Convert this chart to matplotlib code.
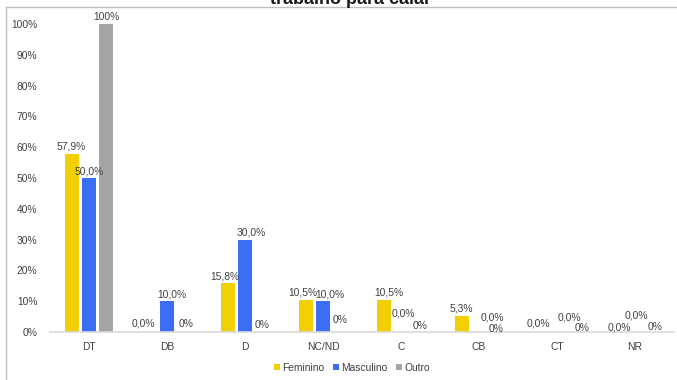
import matplotlib
matplotlib.use("Agg")
import matplotlib.pyplot as plt
from matplotlib.lines import Line2D
from matplotlib.patches import Patch
import numpy as np

plt.rcParams['font.family'] = ['Liberation Sans', 'DejaVu Sans']

categories = ["DT", "DB", "D", "NC/ND", "C", "CB", "CT", "NR"]
series_names = ["Feminino", "Masculino", "Outro"]
feminino = [57.9, 0.0, 15.8, 10.5, 10.5, 5.3, 0.0, 0.0]
masculino = [50.0, 10.0, 30.0, 10.0, 0.0, 0.0, 0.0, 0.0]
outro = [100, 0, 0, 0, 0, 0, 0, 0]
yticks = [0, 10, 20, 30, 40, 50, 60, 70, 80, 90, 100]
title = "trabalho para calar"

colors = ["#F2CF00", "#3A6EF5", "#A5A5A5"]
text_color = "#404040"

# label offsets in pixels (dx, dy) for (series, category) – layout only
label_offsets = {
    (0, 1): (-6, 9), (2, 1): (1.5, 8),
    (0, 2): (-3, 7), (1, 2): (6, 7), (2, 2): (0, 7),
    (0, 3): (-3, 7), (1, 3): (7, 7), (2, 3): (0, 12),
    (0, 4): (5, 7), (1, 4): (2, 19), (2, 4): (1.5, 6),
    (1, 5): (13, 14), (2, 5): (0, 3),
    (0, 6): (-1.5, 9), (1, 6): (12, 14), (2, 6): (8, 4),
    (0, 7): (1.5, 5), (1, 7): (1, 16), (2, 7): (2.5, 5),
    (1, 1): (5, 7),
}

W, H = 677, 380
fig = plt.figure(figsize=(W / 100, H / 100), dpi=100)
ax = fig.add_axes([50 / W, (H - 332) / H, 624 / W, 308 / H])

x = np.arange(len(categories))
bw = 0.18
off = 0.224
data = [feminino, masculino, outro]
for i, (vals, c) in enumerate(zip(data, colors)):
    xs = x + (i - 1) * off
    ax.bar(xs, vals, width=bw, color=c, zorder=2)
    for j, v in enumerate(vals):
        if i == 2:
            lbl = f"{v:.0f}%"
        else:
            lbl = f"{v:.1f}%".replace(".", ",")
        dx, dy = label_offsets.get((i, j), (0, 7))
        ax.annotate(lbl, xy=(xs[j], v), xytext=(dx, dy), textcoords="offset pixels",
                    ha="center", va="center", fontsize=7.4, color=text_color,
                    annotation_clip=False)

ax.set_xlim(-0.5, len(categories) - 0.5)
ax.set_ylim(0, 100)
ax.set_yticks(yticks)
ax.set_yticklabels([f"{t}%" for t in yticks])
ax.set_xticks(x)
ax.set_xticklabels(categories)
ax.tick_params(axis="both", length=0, labelsize=7.4, colors=text_color)
ax.tick_params(axis="y", pad=9)
ax.tick_params(axis="x", pad=7)
for s in ["top", "right", "left"]:
    ax.spines[s].set_visible(False)
ax.spines["bottom"].set_color("#D9D9D9")
ax.spines["bottom"].set_linewidth(1.2)

handles = [Patch(facecolor=c, edgecolor="none") for c in colors]
fig.legend(handles, series_names, loc="center", bbox_to_anchor=(352 / W, (H - 368) / H),
           ncol=3, frameon=False, fontsize=7.4, handlelength=0.55, handleheight=0.55,
           handletextpad=0.2, columnspacing=0.9, labelcolor=text_color)

# outer frame (cropped chart border)
fig.add_artist(Line2D([6 / W, 1], [(H - 7) / H, (H - 7) / H], color="#BFBFBF", lw=1))
fig.add_artist(Line2D([6 / W, 6 / W], [0, (H - 7) / H], color="#BFBFBF", lw=1))

# title: partly cut off at the top edge, as in the source image
fig.text(351 / W, 1 - 4 / H, title, ha="center", va="baseline", fontsize=13,
         fontweight="bold", color="#1a1a1a")

fig.savefig("out.png", dpi=100)
